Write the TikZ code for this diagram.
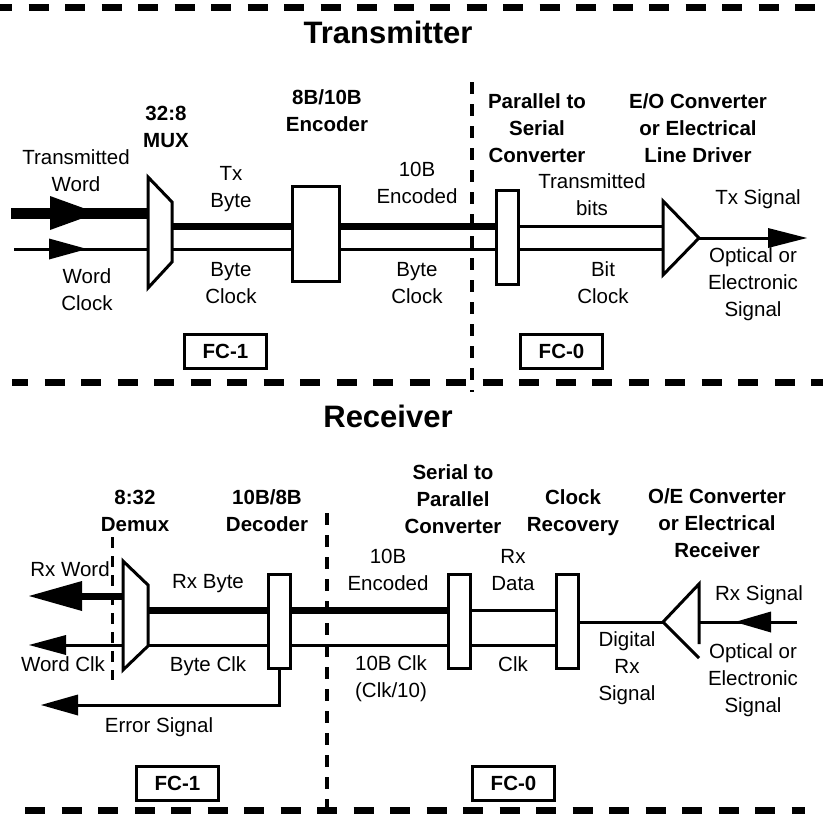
\documentclass[tikz,border=0pt]{standalone}
\usepackage{fontspec}
\setmainfont{Liberation Sans}
\usetikzlibrary{arrows.meta}
\begin{document}
\begin{tikzpicture}[x=1pt,y=-1pt,
  lbl/.style={inner sep=0pt, anchor=base, align=center, font=\fontsize{20.5pt}{26.7pt}\selectfont},
  blbl/.style={inner sep=0pt, anchor=base, align=center, font=\fontsize{20.5pt}{26.7pt}\selectfont\bfseries},
  ttl/.style={inner sep=0pt, anchor=base, font=\fontsize{31pt}{36pt}\selectfont\bfseries},
  blk/.style={draw, line width=3pt, fill=white, inner sep=0pt},
  fcbox/.style={draw, line width=3pt, inner sep=0pt, minimum width=82pt, minimum height=34pt, font=\fontsize{20.5pt}{24pt}\selectfont\bfseries},
  fatline/.style={line width=7pt},
  slimline/.style={line width=3pt},
  sect/.style={line width=7pt, dash pattern=on 20pt off 16.5pt},
  vsep/.style={line width=3.5pt, dash pattern=on 12pt off 10pt},
  mux/.style={draw, line width=3pt, fill=white, line join=miter},
]
\useasboundingbox (0,0) rectangle (823,814);

% ---------- section separators ----------
\draw[sect, dash phase=8pt] (0,7) -- (823,7);
\draw[sect, dash phase=4pt] (12,382) -- (823,382);
\draw[sect] (25,810) -- (805,810);
\draw[vsep] (472,82) -- (472,392);
\draw[vsep] (327,513) -- (327,808);
\draw[line width=3pt, dash pattern=on 11pt off 8pt] (112,537) -- (112,680);

% ---------- titles ----------
\node[ttl] (ttx) at (388,43) {Transmitter};
\node[ttl] (trx) at (388,427) {Receiver};

% =============== TRANSMITTER ===============
\coordinate (muxA) at (148,213);
\coordinate (muxB) at (148,249);
\coordinate (muxC) at (172,226);
\coordinate (muxD) at (172,249);
\coordinate (tw0) at (11,213);
\coordinate (twtip) at (97,213);
\coordinate (wc0) at (14,249);
\coordinate (wctip) at (87,249);
\coordinate (drvA) at (663,201);
\coordinate (drvB) at (663,275);
\coordinate (drvT) at (699,238);
\coordinate (txout) at (807,238);

\node[blk, minimum width=47pt, minimum height=95pt] (enc) at (315.5,233.5) {};
\node[blk, minimum width=22pt, minimum height=94pt] (ps) at (507.5,237.5) {};

% inputs
\draw[line width=11pt] (tw0) -- (muxA);
\draw[line width=11pt, -{Triangle[length=47pt,width=34pt,line width=0pt]}] (tw0) -- (twtip);
\draw[slimline] (wc0) -- (muxB);
\draw[slimline, -{Triangle[length=38pt,width=21pt,line width=0pt]}] (wc0) -- (wctip);
% mux -> encoder -> P/S
\draw[fatline] (muxC) -- (muxC -| enc.west);
\draw[slimline] (muxD) -- (muxD -| enc.west);
\draw[fatline] (enc.east |- muxC) -- (ps.west |- muxC);
\draw[slimline] (enc.east |- muxD) -- (ps.west |- muxD);
% P/S -> driver
\draw[slimline] (ps.east |- muxC) -- (drvA |- muxC);
\draw[slimline] (ps.east |- muxD) -- (drvA |- muxD);
\draw[slimline, -{Triangle[length=39pt,width=20pt,line width=0pt]}] (drvT) -- (txout);

% shapes
\draw[mux] (148,177) -- (172,202) -- (172,262) -- (148,288) -- cycle;
\node[blk, minimum width=47pt, minimum height=95pt] at (enc) {};
\node[blk, minimum width=22pt, minimum height=94pt] at (ps) {};
\draw[mux] (drvA) -- (drvT) -- (drvB) -- cycle;

\node[fcbox] (fc1t) at (225.5,351) {FC-1};
\node[fcbox] (fc0t) at (561.5,351) {FC-0};

% labels (anchor at baseline of last line)
\node[blbl] (l1) at (166,147) {32:8\\MUX};
\node[blbl] (l2) at (327,131) {8B/10B\\Encoder};
\node[blbl] (l3) at (537,162) {Parallel to\\Serial\\Converter};
\node[blbl] (l4) at (698,162) {E/O Converter\\or Electrical\\Line Driver};
\node[lbl] (l5) at (76,191) {Transmitted\\Word};
\node[lbl] (l6) at (87,310) {Word\\Clock};
\node[lbl] (l7) at (231,207) {Tx\\Byte};
\node[lbl] (l8) at (231,303) {Byte\\Clock};
\node[lbl] (l9) at (417,203) {10B\\Encoded};
\node[lbl] (l10) at (417,303) {Byte\\Clock};
\node[lbl] (l11) at (592,215) {Transmitted\\bits};
\node[lbl] (l12) at (603,303) {Bit\\Clock};
\node[lbl] (l13) at (758,204) {Tx Signal};
\node[lbl] (l14) at (753,316) {Optical or\\Electronic\\Signal};

% =============== RECEIVER ===============
\coordinate (dmA) at (123,596);
\coordinate (dmB) at (123,645);
\coordinate (dmC) at (148,610);
\coordinate (dmD) at (148,645);
\coordinate (rxw) at (29,596);
\coordinate (wclk) at (29,645);
\coordinate (err) at (41,705);
\coordinate (rxT) at (663,622);
\coordinate (rxTop) at (699,584);
\coordinate (rxBot) at (699,658);
\coordinate (rxR) at (699,622);
\coordinate (rxin) at (797,622);
\coordinate (rxtip) at (735,622);

\node[blk, minimum width=22pt, minimum height=94pt] (dec) at (279.5,621.5) {};
\node[blk, minimum width=22pt, minimum height=94pt] (sp) at (459.5,621.5) {};
\node[blk, minimum width=22pt, minimum height=94pt] (cr) at (567.5,621.5) {};

\draw[fatline, -{Triangle[length=53pt,width=30pt,line width=0pt]}] (dmA) -- (rxw);
\draw[slimline, -{Triangle[length=37pt,width=20pt,line width=0pt]}] (dmB) -- (wclk);
\draw[fatline] (dmC) -- (dmC -| dec.west);
\draw[slimline] (dmD) -- (dmD -| dec.west);
\draw[fatline] (dec.east |- dmC) -- (sp.west |- dmC);
\draw[slimline] (dec.east |- dmD) -- (sp.west |- dmD);
\draw[slimline] (sp.east |- dmC) -- (cr.west |- dmC);
\draw[slimline] (sp.east |- dmD) -- (cr.west |- dmD);
\draw[slimline] (cr.east |- rxT) -- (rxT);
\draw[slimline, -{Triangle[length=37pt,width=21pt,line width=0pt]}] (dec.south) -- (dec.south |- err) -- (err);
\draw[slimline] (rxin) -- (rxR);
\draw[slimline, -{Triangle[length=36pt,width=21pt,line width=0pt]}] (rxin) -- (rxtip);

\draw[mux] (123,561) -- (148,585) -- (148,646) -- (123,670) -- cycle;
\draw[slimline, line join=miter] (699,644) -- (rxTop) -- (rxT) -- (rxBot);

\node[fcbox] (fc1r) at (177.5,783.5) {FC-1};
\node[fcbox] (fc0r) at (513.5,783.5) {FC-0};

\node[blbl] (r1) at (135,531) {8:32\\Demux};
\node[blbl] (r2) at (267,531) {10B/8B\\Decoder};
\node[blbl] (r3) at (453,533) {Serial to\\Parallel\\Converter};
\node[blbl] (r4) at (573,531) {Clock\\Recovery};
\node[blbl] (r5) at (717,557) {O/E Converter\\or Electrical\\Receiver};
\node[lbl] (r6) at (70,576) {Rx Word};
\node[lbl] (r7) at (208,588) {Rx Byte};
\node[lbl] (r8) at (63,671) {Word Clk};
\node[lbl] (r9) at (208,671) {Byte Clk};
\node[lbl] (r10) at (159,732) {Error Signal};
\node[lbl] (r11) at (388,590) {10B\\Encoded};
\node[lbl] (r12) at (391,697) {10B Clk\\(Clk/10)};
\node[lbl] (r13) at (513,590) {Rx\\Data};
\node[lbl] (r14) at (513,671) {Clk};
\node[lbl] (r15) at (627,700) {Digital\\Rx\\Signal};
\node[lbl] (r16) at (759,600) {Rx Signal};
\node[lbl] (r17) at (753,712) {Optical or\\Electronic\\Signal};
\end{tikzpicture}
\end{document}
